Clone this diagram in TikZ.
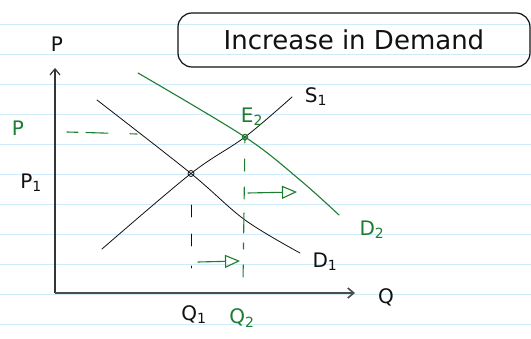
\documentclass[tikz,border=0pt]{standalone}
\usepackage{fontspec}
\setmainfont{DejaVu Sans}
\usetikzlibrary{arrows.meta}
\definecolor{ink}{HTML}{111111}
\definecolor{pen}{HTML}{1E7D32}
\definecolor{rule}{HTML}{CDEBF8}
\begin{document}
\begin{tikzpicture}[x=1pt,y=-1pt,
  curve/.style={line width=0.8pt,ink,line cap=round},
  gcurve/.style={line width=1.1pt,pen,line cap=round},
  lbl/.style={font=\fontsize{20}{20}\selectfont,inner sep=0pt,ink},
  glbl/.style={font=\fontsize{20}{20}\selectfont,inner sep=0pt,pen},
  shiftarrow/.style={gcurve,-{Triangle[open,length=15pt,width=13pt]}}]
\useasboundingbox (0,0) rectangle (531,339);
\fill[white] (0,0) rectangle (531,339);
\foreach \k in {0,...,10} \draw[rule,line width=0.8pt] (0,24.3+30*\k) -- (531,24.3+30*\k);
% title box
\node[draw=ink,line width=1.2pt,rounded corners=14pt,minimum width=352pt,minimum height=54pt,
  font=\fontsize{26}{26}\selectfont,ink] (title) at (354,40) {Increase in Demand};
% axes
\coordinate (O) at (55,293);
\coordinate (ytop) at (55,68);
\coordinate (xend) at (355,293);
\draw[line width=1.2pt,ink!85,-{Straight Barb[length=6pt,width=10pt]}] (O) -- (ytop);
\draw[line width=1.6pt,ink!75,-{Straight Barb[length=6pt,width=10pt]}] (O) -- (xend);
\node[lbl] (plabel) at (57,44) {P};
\node[lbl] (qlabel) at (386,297) {Q};
% equilibrium points
\coordinate (E1) at (191,173.5);
\coordinate (E2) at (245,137);
% curves
\draw[curve] plot[smooth,tension=0.55] coordinates {(102,249) (191,173.5) (245,137) (292,97)};
\draw[curve] plot[smooth,tension=0.55] coordinates {(97,100) (191,173.5) (245,220) (300,253)};
\draw[gcurve] plot[smooth,tension=0.55] coordinates {(138,73) (245,137) (300,180) (339,215)};
\node[lbl] (S1) at (316,97) {S\textsubscript{1}};
\node[lbl] (D1) at (325,262) {D\textsubscript{1}};
\node[glbl] (D2) at (372,230) {D\textsubscript{2}};
\node[glbl] (E2l) at (252,117) {E\textsubscript{2}};
\draw[ink,line width=0.8pt] (E1) circle (3pt);
\draw[pen,line width=1.3pt] (E2) circle (2.6pt);
% price levels
\node[lbl] (P1) at (31,183) {P\textsubscript{1}};
\node[glbl] (P2) at (18,128) {P};
\coordinate (pd0) at (67,132);
\coordinate (pd1) at (137,134);
\draw[gcurve,dash pattern=on 11pt off 8pt on 22pt off 22pt on 7pt off 20pt] (pd0) -- (pd1);
% quantity levels
\node[lbl] (Q1) at (194,315) {Q\textsubscript{1}};
\node[glbl] (Q2) at (242,318) {Q\textsubscript{2}};
\coordinate (q1top) at (191,205);
\coordinate (q1bot) at (191,288);
\draw[curve,dash pattern=on 12pt off 17pt on 12pt off 20pt on 2pt off 20pt] (q1top) -- (q1bot);
\coordinate (q2bot) at (243,283);
\draw[gcurve,dash pattern=on 6pt off 16pt on 12pt off 16pt on 12pt off 14pt on 20pt off 10pt] (E2) -- (q2bot);
% shift arrows
\coordinate (a1s) at (248,193);
\coordinate (a1e) at (297,192);
\draw[shiftarrow] (a1s) -- (a1e);
\coordinate (a2s) at (198,262);
\coordinate (a2e) at (240,261);
\draw[shiftarrow] (a2s) -- (a2e);
\end{tikzpicture}
\end{document}
